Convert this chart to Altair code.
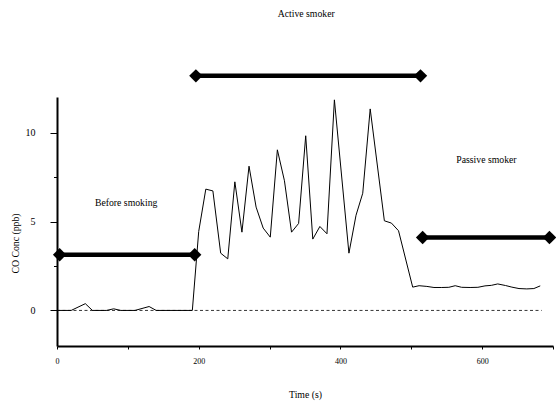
import altair as alt
import pandas as pd

# CO concentration trace (time s, ppb)
line_t = [0, 20, 40, 50, 70, 80, 90, 110, 130, 140, 191,
          200, 210, 220, 231, 241, 251, 261, 271, 281, 291, 301, 311, 321, 331,
          341, 351, 361, 371, 381, 391.5, 412, 422, 431.5, 442, 462, 472, 482, 502,
          511, 522, 532, 543, 553, 562, 571, 583, 594, 604, 613, 622, 633, 642,
          652, 663, 673, 682]
line_v = [0, 0, 0.38, 0, 0, 0.09, 0, 0, 0.22, 0, 0,
          4.44, 6.82, 6.72, 3.22, 2.90, 7.23, 4.40, 8.11, 5.81, 4.63, 4.12, 9.03, 7.29, 4.40,
          4.89, 9.82, 4.01, 4.72, 4.31, 11.84, 3.22, 5.35, 6.59, 11.33, 5.04, 4.91, 4.48, 1.31,
          1.39, 1.35, 1.29, 1.29, 1.30, 1.39, 1.30, 1.29, 1.30, 1.38, 1.41, 1.49, 1.40, 1.31,
          1.23, 1.21, 1.23, 1.38]

# zero reference line
zero_t = [0]
zero_t2 = [684]
zero_v = [0]

# phase brackets
phase_names = ["Before smoking", "Active smoker", "Passive smoker"]
phase_start = [3.7, 196, 516]
phase_end = [194.3, 513, 695]
phase_level = [3.13, 13.19, 4.10]

# phase labels
label_t = [97.6, 351.7, 606]
label_v = [6.03, 16.67, 8.43]

FONT = "Liberation Serif"

df_line = pd.DataFrame({"t": line_t, "v": line_v})
df_zero = pd.DataFrame({"t": zero_t, "t2": zero_t2, "v": zero_v})
df_br = pd.DataFrame({"name": phase_names, "t": phase_start, "t2": phase_end, "v": phase_level})
df_pts = pd.DataFrame({
    "t": phase_start + phase_end,
    "v": phase_level + phase_level,
})
df_lab = pd.DataFrame({"name": phase_names, "t": label_t, "v": label_v})

xs = alt.Scale(domain=[0, 700], nice=False, zero=False)
ys = alt.Scale(domain=[-2, 12], nice=False, zero=False)

xaxis = alt.Axis(
    values=[0, 100, 200, 300, 400, 500, 600, 700],
    labelExpr="datum.value % 200 === 0 ? datum.label : ''",
    tickSize=3, tickColor="black", tickWidth=1,
    domainColor="black", domainWidth=2, grid=False,
    labelFont=FONT, labelFontSize=8, labelColor="black", labelPadding=8,
    labelFlush=False, labelOverlap=False,
    titleFont=FONT, titleFontSize=9.75, titleFontWeight="normal", titleColor="black",
    titleX=248, titleY=48, titleBaseline="middle", titleAlign="center",
)
yaxis = alt.Axis(
    values=[0, 2.5, 5, 7.5, 10],
    labelExpr="datum.value % 5 === 0 ? datum.label : ''",
    tickSize={"condition": {"test": "datum.value % 5 === 0", "value": 7}, "value": 3.5},
    tickColor="black", tickWidth=1,
    domainColor="black", domainWidth=2, grid=False,
    labelFont=FONT, labelFontSize=10, labelColor="black", labelPadding=15,
    labelFlush=False, labelOverlap=False,
    titleFont=FONT, titleFontSize=9.75, titleFontWeight="normal", titleColor="black",
    titleX=-42, titleY=146, titleAngle=270, titleBaseline="middle", titleAlign="center",
)


def X(field="t:Q"):
    return alt.X(field, scale=xs, axis=xaxis, title="Time (s)")


def Y(field="v:Q"):
    return alt.Y(field, scale=ys, axis=yaxis, title="CO Conc (ppb)")


line = alt.Chart(df_line).mark_line(color="black", strokeWidth=1).encode(x=X(), y=Y())

zero = alt.Chart(df_zero).mark_rule(color="black", strokeWidth=0.8, strokeDash=[3, 2.5]).encode(
    x=X(), x2=alt.X2("t2:Q", title="Time (s)"), y=Y()
)

brackets = alt.Chart(df_br).mark_rule(color="black", strokeWidth=4.5).encode(
    x=X(), x2=alt.X2("t2:Q", title="Time (s)"), y=Y()
)

diamonds = alt.Chart(df_pts).mark_point(
    shape="diamond", filled=True, color="black", size=180, opacity=1
).encode(x=X(), y=Y())

labels = alt.Chart(df_lab).mark_text(
    font=FONT, fontSize=9.75, color="black", align="center", baseline="middle"
).encode(x=X(), y=Y(), text="name:N")

chart = alt.layer(zero, line, brackets, diamonds, labels).properties(
    width=496, height=249,
    autosize=alt.AutoSizeParams(type="none"),
    padding={"left": 57, "top": 97, "right": 3, "bottom": 56},
    background="white",
).configure_view(stroke=None)

chart.save("out.html", embed_options={"renderer": "svg", "actions": False})
